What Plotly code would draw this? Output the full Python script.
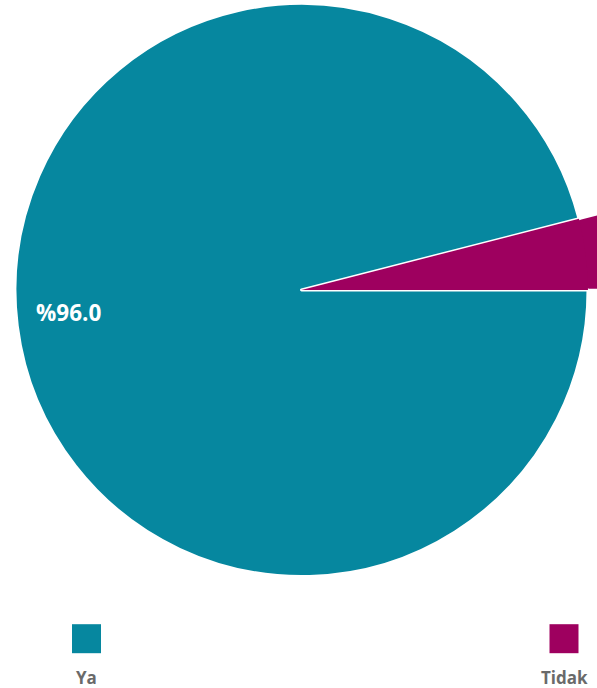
import math
import plotly.graph_objects as go

# Survey answers and their counts (percent of respondents)
labels = ["Ya", "Tidak"]
values = [96.0, 4.0]
colors = ["#06879f", "#9e005f"]

W, H = 597, 688
cx, cy, r = 301.5, 290.0, 286.5   # pie centre / radius in pixels

total = sum(values)
shares = [v / total for v in values]
tidak_deg = 360.0 * shares[1]

fig = go.Figure()

# Highlighted "Tidak" wedge, drawn larger than the pie and clipped by the plot area
R_big = 420.0
n_arc = 40
wx = [cx]
wy = [cy]
for i in range(n_arc + 1):
    a = math.radians(tidak_deg * i / n_arc)
    wx.append(cx + R_big * math.cos(a))
    wy.append(cy - R_big * math.sin(a))
wx.append(cx)
wy.append(cy)
fig.add_trace(go.Scatter(
    x=wx, y=wy, mode="lines", fill="toself",
    fillcolor=colors[1], line=dict(color="white", width=2.5),
    hoverinfo="skip", showlegend=False,
))

# Main pie: with counterclockwise direction the last slice ("Tidak")
# ends at the rotation bearing, so 90 puts it right above 3 o'clock.
fig.add_trace(go.Pie(
    labels=labels, values=values, sort=False,
    direction="counterclockwise",
    rotation=90,
    marker=dict(colors=colors, line=dict(color="white", width=[3, 0])),
    textinfo="none", hoverinfo="label+percent",
    showlegend=False,
    domain=dict(x=[(cx - r) / W, (cx + r) / W],
                y=[1 - (cy + r) / H, 1 - (cy - r) / H]),
))

# Legend swatches under the pie
sw_x = [86.5, 564]
sw_y = 638.7
fig.add_trace(go.Scatter(
    x=sw_x, y=[sw_y] * len(labels), mode="markers",
    marker=dict(symbol="square", size=29, color=colors, line=dict(width=0)),
    hoverinfo="skip", showlegend=False,
))

annotations = []
for lab, x in zip(labels, sw_x):
    annotations.append(dict(
        x=x, y=677.5, xref="x", yref="y", text=f"<b>{lab}</b>",
        showarrow=False, font=dict(family="Open Sans", size=17, color="#6a6a6a"),
        xanchor="center", yanchor="middle",
    ))

# Percentage label on the large slice
pct_ya = 100.0 * shares[0]
annotations.append(dict(
    x=68.5, y=312.5, xref="x", yref="y", text=f"<b>%{pct_ya:.1f}</b>",
    showarrow=False, font=dict(family="Open Sans", size=22.5, color="white"),
    xanchor="center", yanchor="middle",
))

fig.update_layout(
    width=W, height=H,
    margin=dict(l=0, r=0, t=0, b=0, pad=0),
    paper_bgcolor="white", plot_bgcolor="white",
    xaxis=dict(range=[0, W], visible=False, fixedrange=True),
    yaxis=dict(range=[H, 0], visible=False, fixedrange=True),
    annotations=annotations,
)

fig.write_html("out.html")
